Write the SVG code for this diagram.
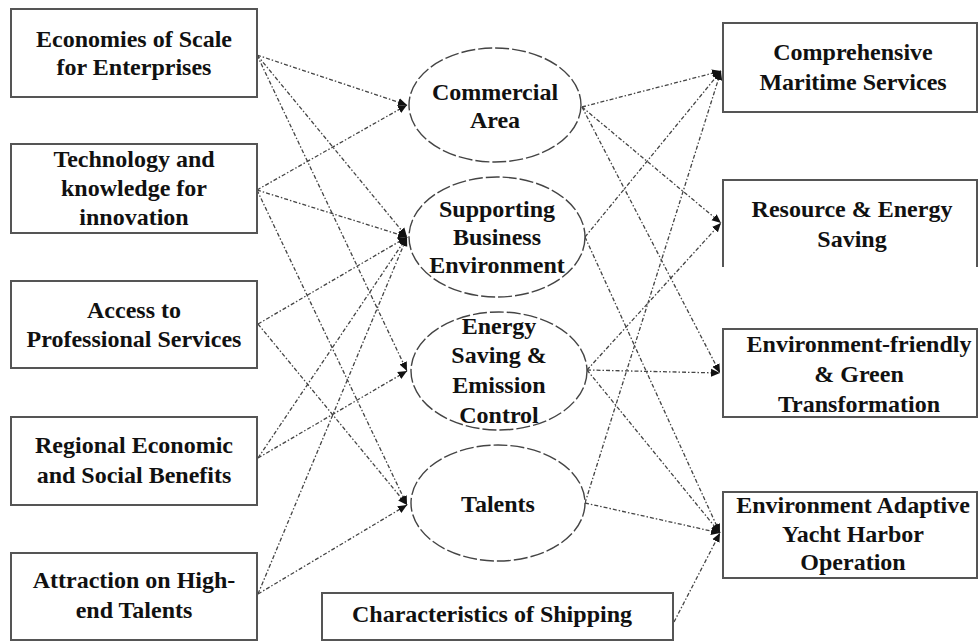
<svg xmlns="http://www.w3.org/2000/svg" width="978" height="642" viewBox="0 0 978 642">
<style>
.box{fill:#fff;stroke:#555;stroke-width:2}
.ell{fill:#fff;stroke:#444;stroke-width:1.4;stroke-dasharray:14 3}
.t{font-family:"Liberation Serif","Times New Roman",serif;font-weight:bold;font-size:24px;fill:#111;text-anchor:middle}
.c{fill:none;stroke:#444;stroke-width:1.3;stroke-dasharray:4 2 1.5 2}
</style>
<defs>
<marker id="ah" markerUnits="userSpaceOnUse" markerWidth="10" markerHeight="10" refX="9" refY="5" orient="auto">
<path d="M0,1 L9,5 L0,9 Z" fill="#111"/>
</marker>
</defs>
<rect width="978" height="642" fill="#fff"/>
<g id="connectors">
<line class="c" x1="257" y1="55" x2="407" y2="105" marker-end="url(#ah)"/>
<line class="c" x1="257" y1="55" x2="407" y2="237" marker-end="url(#ah)"/>
<line class="c" x1="257" y1="55" x2="407" y2="371" marker-end="url(#ah)"/>
<line class="c" x1="257" y1="190" x2="407" y2="105" marker-end="url(#ah)"/>
<line class="c" x1="257" y1="190" x2="407" y2="237" marker-end="url(#ah)"/>
<line class="c" x1="257" y1="190" x2="407" y2="505" marker-end="url(#ah)"/>
<line class="c" x1="258" y1="324" x2="407" y2="237" marker-end="url(#ah)"/>
<line class="c" x1="258" y1="324" x2="407" y2="505" marker-end="url(#ah)"/>
<line class="c" x1="258" y1="458" x2="407" y2="237" marker-end="url(#ah)"/>
<line class="c" x1="258" y1="458" x2="407" y2="371" marker-end="url(#ah)"/>
<line class="c" x1="258" y1="594" x2="407" y2="237" marker-end="url(#ah)"/>
<line class="c" x1="258" y1="594" x2="407" y2="505" marker-end="url(#ah)"/>
<line class="c" x1="582" y1="107" x2="721" y2="71" marker-end="url(#ah)"/>
<line class="c" x1="582" y1="107" x2="721" y2="223" marker-end="url(#ah)"/>
<line class="c" x1="582" y1="107" x2="720" y2="373" marker-end="url(#ah)"/>
<line class="c" x1="585" y1="237" x2="721" y2="71" marker-end="url(#ah)"/>
<line class="c" x1="585" y1="237" x2="720" y2="533" marker-end="url(#ah)"/>
<line class="c" x1="587" y1="370" x2="721" y2="223" marker-end="url(#ah)"/>
<line class="c" x1="587" y1="370" x2="720" y2="373" marker-end="url(#ah)"/>
<line class="c" x1="587" y1="370" x2="720" y2="533" marker-end="url(#ah)"/>
<line class="c" x1="585" y1="503" x2="721" y2="71" marker-end="url(#ah)"/>
<line class="c" x1="585" y1="503" x2="720" y2="533" marker-end="url(#ah)"/>
<line class="c" x1="674" y1="622" x2="720" y2="533" marker-end="url(#ah)"/>
</g>
<g id="n-economies"><rect class="box" x="11" y="9" width="246" height="88"/><text class="t" x="134" y="47">Economies of Scale</text><text class="t" x="134" y="75">for Enterprises</text></g>
<g id="n-technology"><rect class="box" x="11" y="144" width="246" height="89"/><text class="t" x="134" y="167">Technology and</text><text class="t" x="134" y="196">knowledge for</text><text class="t" x="134" y="225">innovation</text></g>
<g id="n-access"><rect class="box" x="11" y="281" width="246" height="87"/><text class="t" x="134" y="318">Access to</text><text class="t" x="134" y="347">Professional Services</text></g>
<g id="n-regional"><rect class="box" x="11" y="417" width="246" height="88"/><text class="t" x="134" y="453">Regional Economic</text><text class="t" x="134" y="483">and Social Benefits</text></g>
<g id="n-attraction"><rect class="box" x="11" y="553" width="246" height="87"/><text class="t" x="134" y="588">Attraction on High-</text><text class="t" x="134" y="618">end Talents</text></g>
<g id="n-commercial"><ellipse class="ell" cx="495" cy="105" rx="86" ry="57"/><text class="t" x="495" y="100">Commercial</text><text class="t" x="495" y="128">Area</text></g>
<g id="n-supporting"><ellipse class="ell" cx="497" cy="237" rx="88" ry="60"/><text class="t" x="497" y="217">Supporting</text><text class="t" x="497" y="245">Business</text><text class="t" x="497" y="273">Environment</text></g>
<g id="n-energy"><ellipse class="ell" cx="499" cy="371" rx="88" ry="59"/><text class="t" x="499" y="334">Energy</text><text class="t" x="499" y="363">Saving &amp;</text><text class="t" x="499" y="393">Emission</text><text class="t" x="499" y="423">Control</text></g>
<g id="n-talents"><ellipse class="ell" cx="498" cy="503" rx="87" ry="58"/><text class="t" x="498" y="512">Talents</text></g>
<g id="n-shipping"><rect class="box" x="322" y="593" width="351" height="47"/><text class="t" x="492" y="622">Characteristics of Shipping</text></g>
<g id="n-comprehensive"><rect class="box" x="723" y="23" width="254" height="89"/><text class="t" x="853" y="60">Comprehensive</text><text class="t" x="853" y="90">Maritime Services</text></g>
<g id="n-resource"><path d="M723,267 V180 H977 V267" fill="#fff" stroke="#555" stroke-width="2"/><text class="t" x="852" y="217">Resource &amp; Energy</text><text class="t" x="852" y="247">Saving</text></g>
<g id="n-friendly"><rect class="box" x="723" y="329" width="254" height="88"/><text class="t" x="859" y="352">Environment-friendly</text><text class="t" x="859" y="382">&amp; Green</text><text class="t" x="859" y="412">Transformation</text></g>
<g id="n-adaptive"><rect class="box" x="723" y="492" width="254" height="86"/><text class="t" x="853" y="513">Environment Adaptive</text><text class="t" x="853" y="542">Yacht Harbor</text><text class="t" x="853" y="570">Operation</text></g>
</svg>
